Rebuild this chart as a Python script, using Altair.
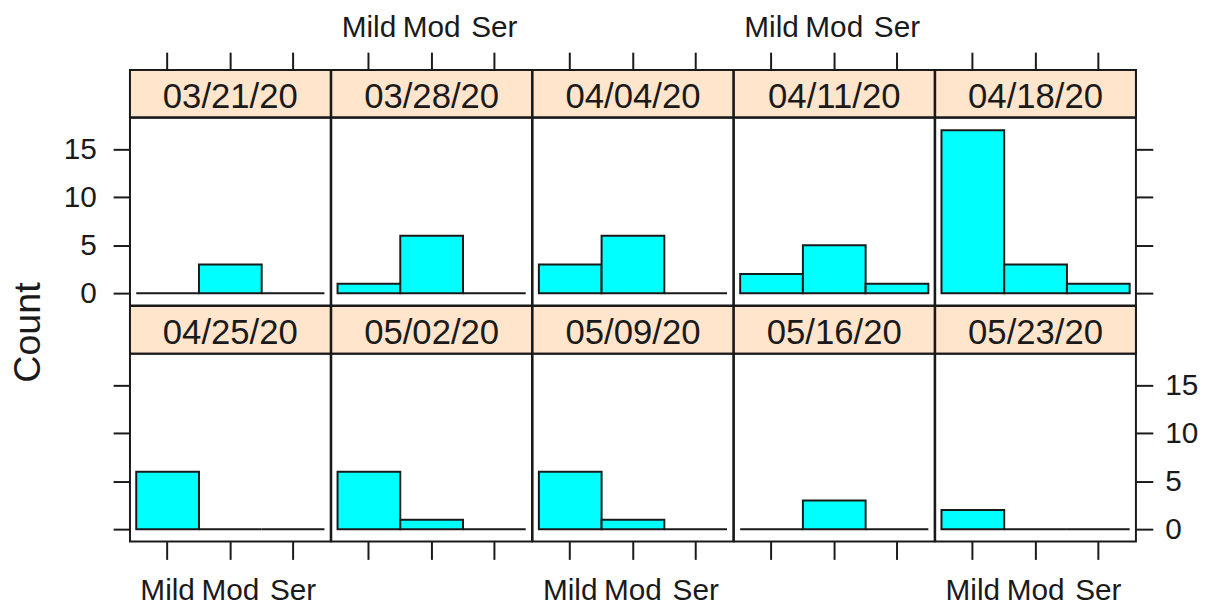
import altair as alt
import pandas as pd

dates = ["03/21/20", "03/28/20", "04/04/20", "04/11/20", "04/18/20",
         "04/25/20", "05/02/20", "05/09/20", "05/16/20", "05/23/20"]
severity = ["Mild", "Mod", "Ser"]
mild = [0, 1, 3, 2, 17, 6, 6, 6, 0, 2]
mod = [3, 6, 6, 5, 3, 0, 1, 1, 3, 0]
ser = [0, 0, 0, 1, 1, 0, 0, 0, 0, 0]
y_ticks = [0, 5, 10, 15]

rows = []
for i, d in enumerate(dates):
    for s, c in zip(severity, (mild[i], mod[i], ser[i])):
        rows.append({"date": d, "sev": s, "count": c})
df = pd.DataFrame(rows)
sev_df = pd.DataFrame({"sev": severity})

W = 202.4
HS = 48
HP = 189.5
FONT = "Liberation Sans"
TICKFS = 30
INK = "#1a1a1a"

xscale = alt.Scale(type="band", domain=severity, paddingInner=0, paddingOuter=0.1)
yscale = alt.Scale(domain=[-1.28, 18.32], nice=False, zero=False)


def strip(i, top_axis, show_labels):
    base = alt.Chart(pd.DataFrame({"date": [dates[i]]}))
    rect = base.mark_rect(fill="#ffe5cc", stroke=INK, strokeWidth=2).encode(
        x=alt.value(0), x2=alt.value(W), y=alt.value(0), y2=alt.value(HS))
    text = base.mark_text(font=FONT, fontSize=35, color=INK, baseline="middle").encode(
        x=alt.value(W / 2), y=alt.value(HS / 2 + 3), text="date:N")
    layers = [rect, text]
    if top_axis:
        ax = alt.Axis(orient="top", tickSize=18, labels=show_labels, domain=False, title=None,
                      labelFont=FONT, labelFontSize=TICKFS, labelPadding=10, labelAngle=0)
        inv = alt.Chart(sev_df).mark_tick(opacity=0).encode(
            x=alt.X("sev:N", scale=xscale, axis=ax, sort=severity))
        layers = [inv, rect, text]
    return alt.layer(*layers).properties(width=W, height=HS)


def plot(i, yaxis, xaxis):
    data = df[df["date"] == dates[i]]
    bars = alt.Chart(data).mark_bar(fill="#00ffff", stroke=INK, strokeWidth=2).encode(
        x=alt.X("sev:N", scale=xscale, axis=xaxis, sort=severity),
        y=alt.Y("count:Q", scale=yscale, axis=yaxis),
        y2=alt.datum(0))
    return bars.properties(width=W, height=HP)


def yax(orient, labels):
    return alt.Axis(orient=orient, values=y_ticks, tickSize=17, labels=labels, domain=False,
                    grid=False, title=None, labelFont=FONT, labelFontSize=TICKFS,
                    labelPadding=17 if orient == "left" else 12)


def xax_bottom(labels):
    return alt.Axis(orient="bottom", tickSize=18, labels=labels, domain=False, title=None,
                    labelFont=FONT, labelFontSize=TICKFS, labelPadding=16, labelAngle=0)


cells = []
# row 1 strips
for c in range(5):
    cells.append(strip(c, True, c in (1, 3)))
# row 1 plots
for c in range(5):
    if c == 0:
        ya = yax("left", True)
    elif c == 4:
        ya = yax("right", False)
    else:
        ya = None
    cells.append(plot(c, ya, None))
# row 2 strips
for c in range(5):
    cells.append(strip(5 + c, False, False))
# row 2 plots
for c in range(5):
    if c == 0:
        ya = yax("left", False)
    elif c == 4:
        ya = yax("right", True)
    else:
        ya = None
    cells.append(plot(5 + c, ya, xax_bottom(c in (0, 2, 4))))

chart = alt.concat(*cells, columns=5, spacing=0, bounds="flush").properties(
    title=alt.TitleParams("Count", orient="left", anchor="middle", fontSize=38, font=FONT,
                          fontWeight="normal", color=INK, offset=14, dx=-24),
    padding={"left": 2, "top": 1, "right": 0, "bottom": -1},
).configure_view(stroke=INK, strokeWidth=2).configure_axis(
    tickColor=INK, tickWidth=2, labelColor=INK, grid=False, domain=False
)

chart.save("out.html", embed_options={"renderer": "svg", "actions": False})
